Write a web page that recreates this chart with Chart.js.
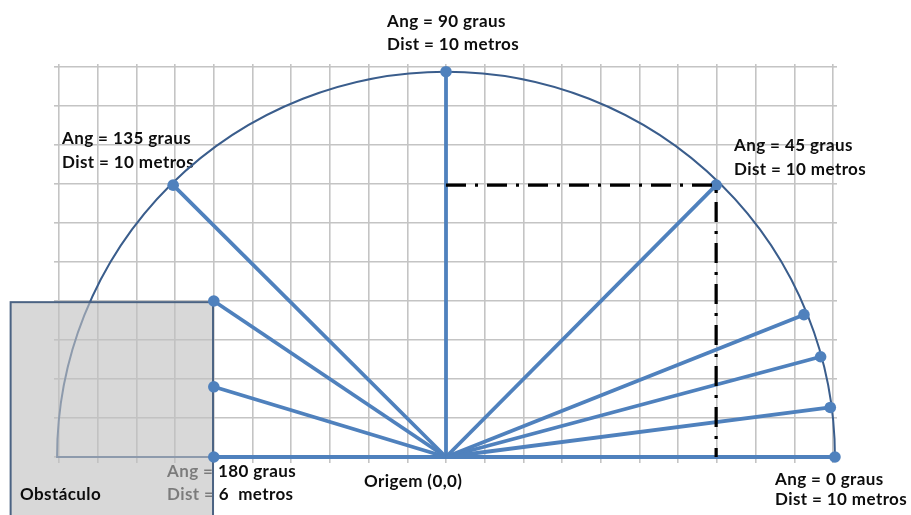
<!DOCTYPE html>
<html>
<head>
<meta charset="utf-8">
<script src="https://cdn.jsdelivr.net/npm/chart.js@4.4.1/dist/chart.umd.min.js"></script>
<style>
  html, body { margin: 0; padding: 0; background: #fff; }
  #wrap { width: 911px; height: 515px; position: relative; }
</style>
</head>
<body>
<div id="wrap"><canvas id="chart"></canvas></div>
<script>
/* ── data (metres) ───────────────────────────────────────────── */
const X_RANGE = [-10, 10];
const Y_RANGE = [0, 10];

// sensor readings: end point of each ray
const RAY_X = [10.05, 9.93, 9.68, 9.25, 6.98, 0, -7.05, -6, -6, -6];
const RAY_Y = [0, 1.27, 2.57, 3.65, 6.97, 9.88, 6.97, 4.0, 1.8, 0];

// dash-dot projection of the 45° reading
const PROJ_X = [0, 6.98, 6.98];
const PROJ_Y = [6.97, 6.97, 0];

// obstacle box (runs off the picture on the left and bottom)
const OBST_X = [-11.25, -6.02];
const OBST_Y = [-2.5, 3.97];

const NOTES = [
  ['Ang = 90 graus', 'Dist = 10 metros'],
  ['Ang = 135 graus', 'Dist = 10 metros'],
  ['Ang = 45 graus', 'Dist = 10 metros'],
  ['Ang = 0 graus', 'Dist = 10 metros'],
  ['Ang = 180 graus', 'Dist = 6  metros'],
  ['Origem (0,0)'],
];
const OBST_LABEL = 'Obstáculo';

/* ── layout / style ──────────────────────────────────────────── */
// left x, first baseline, line step (px)
const NOTE_POS = [
  [387, 27, 23], [62, 144, 24], [734, 151, 24],
  [775, 485, 20], [167, 477, 23], [364, 487, 0],
];
const BLUE = '#4f81bd';
const DARK = '#3a5d8c';
const GRID = '#c4c4c4';
const FONT = 'bold 17px Lato, "Open Sans", sans-serif';

const sketch = {
  id: 'sketch',
  beforeDatasetsDraw(chart) {
    const ctx = chart.ctx;
    const xs = chart.scales.x, ys = chart.scales.y;
    ctx.save();

    // notes (under the obstacle overlay, so the part inside it turns grey)
    ctx.font = FONT;
    ctx.fillStyle = '#0d0d0d';
    ctx.textBaseline = 'alphabetic';
    ctx.letterSpacing = '0.4px';
    NOTES.forEach((lines, i) => {
      const [x, y, step] = NOTE_POS[i];
      lines.forEach((t, j) => ctx.fillText(t, x, y + j * step));
    });

    // range semicircle, through the 0° and 90° readings
    const cx = xs.getPixelForValue(0), cy = ys.getPixelForValue(0);
    const rx = xs.getPixelForValue(RAY_X[0]) - cx;
    const ry = cy - ys.getPixelForValue(RAY_Y[5]);
    ctx.beginPath();
    ctx.ellipse(cx, cy, rx, ry, 0, Math.PI, 2 * Math.PI);
    ctx.closePath();
    ctx.strokeStyle = DARK;
    ctx.lineWidth = 2;
    ctx.stroke();

    // obstacle
    const l = xs.getPixelForValue(OBST_X[0]), r = xs.getPixelForValue(OBST_X[1]);
    const t = ys.getPixelForValue(OBST_Y[1]), b = ys.getPixelForValue(OBST_Y[0]);
    ctx.fillStyle = 'rgba(192,192,192,0.62)';
    ctx.fillRect(l, t, r - l, b - t);
    ctx.strokeStyle = '#4b6383';
    ctx.lineWidth = 2;
    ctx.strokeRect(l, t, r - l, b - t);

    ctx.fillStyle = '#0d0d0d';
    ctx.fillText(OBST_LABEL, 20, 500);
    ctx.restore();
  }
};

const rayData = RAY_X.map((x, i) => ({
  data: [{ x: 0, y: 0 }, { x, y: RAY_Y[i] }],
  showLine: true,
  borderColor: BLUE,
  borderWidth: 3.8,
  pointRadius: [0, 5.8],
  pointBackgroundColor: BLUE,
  pointBorderWidth: 0,
  clip: false,
}));

const projData = {
  data: PROJ_X.map((x, i) => ({ x, y: PROJ_Y[i] })),
  showLine: true,
  borderColor: '#000',
  borderWidth: 3.2,
  borderDash: [20, 9, 3, 9],
  pointRadius: 0,
  clip: false,
};

const axis = (pos, range, tick, onArea) => ({
  type: 'linear',
  position: pos,
  min: range[0], max: range[1],
  ticks: { display: false, stepSize: 1 },
  grid: { color: GRID, lineWidth: 1.6, drawOnChartArea: onArea, drawTicks: true, tickLength: tick },
  border: { display: false },
});

new Chart(document.getElementById('chart'), {
  type: 'scatter',
  data: { datasets: [projData, ...rayData] },
  options: {
    responsive: true,
    maintainAspectRatio: false,
    animation: false,
    events: [],
    layout: { padding: { left: 54, right: 74, top: 64, bottom: 52 } },
    plugins: { legend: { display: false }, tooltip: { enabled: false } },
    scales: {
      x: axis('bottom', X_RANGE, 6, true),
      xTop: axis('top', X_RANGE, 3, false),
      y: axis('left', Y_RANGE, 5, true),
      yRight: axis('right', Y_RANGE, 4, false),
    },
  },
  plugins: [sketch],
});
</script>
</body>
</html>
